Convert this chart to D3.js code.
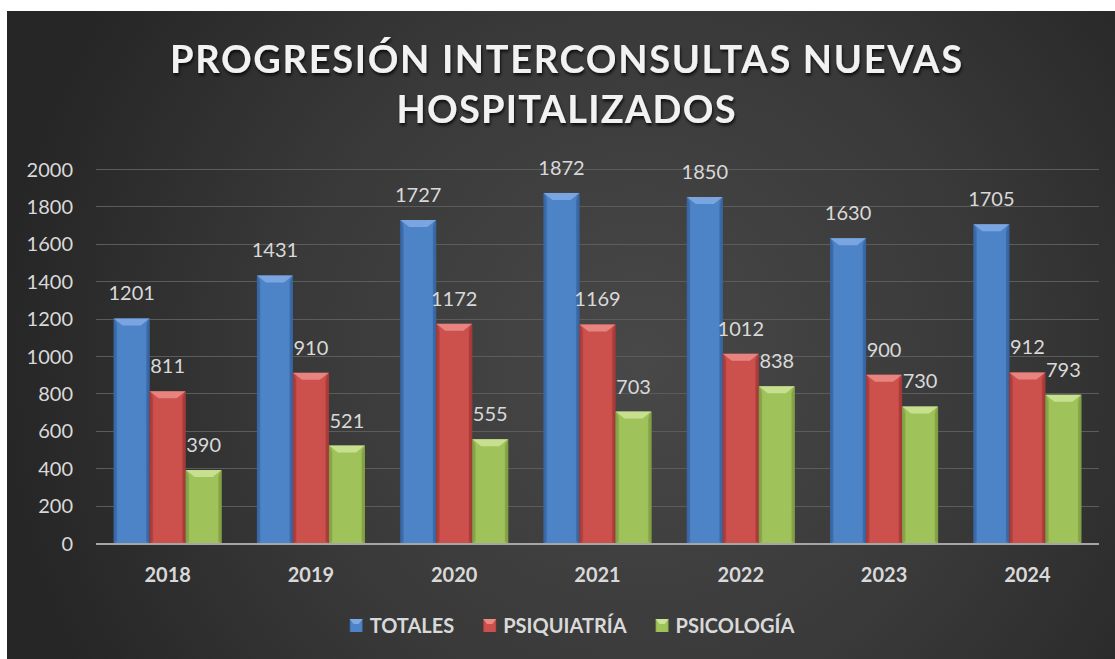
<!DOCTYPE html>
<html><head><meta charset="utf-8">
<script src="https://cdn.jsdelivr.net/npm/d3@7"></script>
<style>
html,body{margin:0;padding:0;background:#fff;}
svg{display:block;}
text{font-family:Lato,"Open Sans",sans-serif;}
</style></head>
<body>
<svg id="chart" width="1115" height="659"></svg>
<script>
const years = ["2018","2019","2020","2021","2022","2023","2024"];
const totales = [1201,1431,1727,1872,1850,1630,1705];
const psiquiatria = [811,910,1172,1169,1012,900,912];
const psicologia = [390,521,555,703,838,730,793];
const seriesNames = ["TOTALES","PSIQUIATRÍA","PSICOLOGÍA"];
const yTicks = [0,200,400,600,800,1000,1200,1400,1600,1800,2000];
const titleLines = ["PROGRESIÓN INTERCONSULTAS NUEVAS","HOSPITALIZADOS"];

const seriesData = [totales, psiquiatria, psicologia];
const palette = [
  {edge:"#3a67a5", mid:"#4d84c8", top:"#80a9e2", bot:"#33609b"},
  {edge:"#ad3d3a", mid:"#cc504c", top:"#ea8a85", bot:"#9e3633"},
  {edge:"#86a448", mid:"#a0c25a", top:"#cbe396", bot:"#7b9840"}
];

const svg = d3.select("#chart");
const defs = svg.append("defs");

// background
const bg = defs.append("radialGradient").attr("id","bgGrad")
  .attr("gradientUnits","userSpaceOnUse").attr("cx",640).attr("cy",360).attr("r",640);
bg.append("stop").attr("offset","0%").attr("stop-color","#484848");
bg.append("stop").attr("offset","55%").attr("stop-color","#393939");
bg.append("stop").attr("offset","100%").attr("stop-color","#262626");
svg.append("rect").attr("x",7).attr("y",11).attr("width",1108).attr("height",648).attr("fill","url(#bgGrad)");

// shadow filter for title
const f = defs.append("filter").attr("id","tshadow").attr("x","-10%").attr("y","-20%").attr("width","120%").attr("height","160%");
f.append("feDropShadow").attr("dx",1).attr("dy",2.5).attr("stdDeviation",1.8).attr("flood-color","#000").attr("flood-opacity",0.75);

// bar gradients
palette.forEach((p,i)=>{
  const g = defs.append("linearGradient").attr("id","barGrad"+i).attr("x1","0%").attr("x2","100%").attr("y1","0%").attr("y2","0%");
  g.append("stop").attr("offset","0%").attr("stop-color",p.edge);
  g.append("stop").attr("offset","12%").attr("stop-color",p.mid);
  g.append("stop").attr("offset","50%").attr("stop-color",p.mid);
  g.append("stop").attr("offset","88%").attr("stop-color",p.mid);
  g.append("stop").attr("offset","100%").attr("stop-color",p.edge);
});

// scales
const plotLeft = 96, plotRight = 1099, plotTop = 169, plotBottom = 543;
const x = d3.scaleBand().domain(years).range([plotLeft,plotRight]).paddingInner(0.246).paddingOuter(0.123);
const xs = d3.scaleBand().domain(d3.range(3)).range([0,x.bandwidth()]);
const y = d3.scaleLinear().domain([0,2000]).range([plotBottom,plotTop]);

// gridlines
svg.append("g").selectAll("line").data(yTicks.filter(d=>d>0)).join("line")
  .attr("x1",plotLeft).attr("x2",plotRight)
  .attr("y1",d=>Math.round(y(d))+0.5).attr("y2",d=>Math.round(y(d))+0.5)
  .attr("stroke","#5c5c5c").attr("stroke-width",1);

// y axis labels
const yAxis = d3.axisLeft(y).tickValues(yTicks).tickFormat(d3.format("d")).tickSize(0).tickPadding(0);
const yg = svg.append("g").attr("transform",`translate(73,0)`).call(yAxis);
yg.select(".domain").remove();
yg.selectAll("text").attr("fill","#d9d9d9").attr("font-size",20).attr("font-family","Lato").attr("dy","0.35em");

// bars
const groups = svg.append("g").selectAll("g").data(years).join("g")
  .attr("transform",d=>`translate(${x(d)},0)`);
groups.each(function(yr,yi){
  const g = d3.select(this);
  seriesData.forEach((arr,si)=>{
    const v = arr[yi];
    const bx = xs(si), bw = xs.bandwidth();
    const by = y(v), bh = y(0)-y(v);
    const p = palette[si];
    g.append("rect").attr("x",bx).attr("y",by).attr("width",bw).attr("height",bh).attr("fill",`url(#barGrad${si})`);
    const bev = 7, inset = 9;
    g.append("path").attr("d",`M${bx},${by} L${bx+bw},${by} L${bx+bw-inset},${by+bev} L${bx+inset},${by+bev} Z`)
      .attr("fill",p.top).attr("opacity",0.9);
    g.append("path").attr("d",`M${bx},${by} L${bx+inset*0.35},${by+bev} L${bx+inset*0.35},${by+bh-2} L${bx},${by+bh} Z`)
      .attr("fill",p.bot).attr("opacity",0.5);
    g.append("path").attr("d",`M${bx+bw},${by} L${bx+bw-inset*0.35},${by+bev} L${bx+bw-inset*0.35},${by+bh-2} L${bx+bw},${by+bh} Z`)
      .attr("fill",p.bot).attr("opacity",0.6);
    g.append("text").attr("x",bx+bw/2).attr("y",by-18).attr("text-anchor","middle")
      .attr("fill","#d9d9d9").attr("font-size",20).text(v);
  });
});

// baseline
svg.append("line").attr("x1",plotLeft).attr("x2",plotRight).attr("y1",plotBottom+1).attr("y2",plotBottom+1)
  .attr("stroke","#a6a6a6").attr("stroke-width",2);

// x axis labels
const xAxis = d3.axisBottom(x).tickSize(0).tickPadding(0);
const xg = svg.append("g").attr("transform",`translate(0,582)`).call(xAxis);
xg.select(".domain").remove();
xg.selectAll("text").attr("fill","#d9d9d9").attr("font-size",20).attr("font-weight","bold").attr("font-family","Lato").attr("dy",0);

// title
const tWidths = [792, 339];
const tBase = [73, 123];
titleLines.forEach((t,i)=>{
  svg.append("text").attr("x",566).attr("y",tBase[i]).attr("text-anchor","middle")
    .attr("font-size",38).attr("font-weight","bold").attr("fill","#f2f2f2")
    .attr("textLength",tWidths[i]).attr("lengthAdjust","spacing")
    .attr("filter","url(#tshadow)").text(t);
});

// legend
const leg = svg.append("g");
const items = seriesNames.map((n,i)=>{
  const g = leg.append("g");
  const t = g.append("text").attr("x",20).attr("y",0).attr("font-size",20).attr("font-weight","bold").attr("fill","#d9d9d9").text(n);
  return {g, w: 20 + t.node().getComputedTextLength(), i};
});
const gap = 29;
const totalW = d3.sum(items,d=>d.w) + gap*(items.length-1);
let cx = 572 - totalW/2;
items.forEach(it=>{
  it.g.attr("transform",`translate(${cx},633)`);
  const p = palette[it.i];
  it.g.append("rect").attr("x",0).attr("y",-14).attr("width",13).attr("height",13).attr("fill",`url(#barGrad${it.i})`);
  it.g.append("path").attr("d","M0,-14 L13,-14 L9,-9 L4,-9 Z").attr("fill",p.top);
  cx += it.w + gap;
});
</script>
</body></html>
